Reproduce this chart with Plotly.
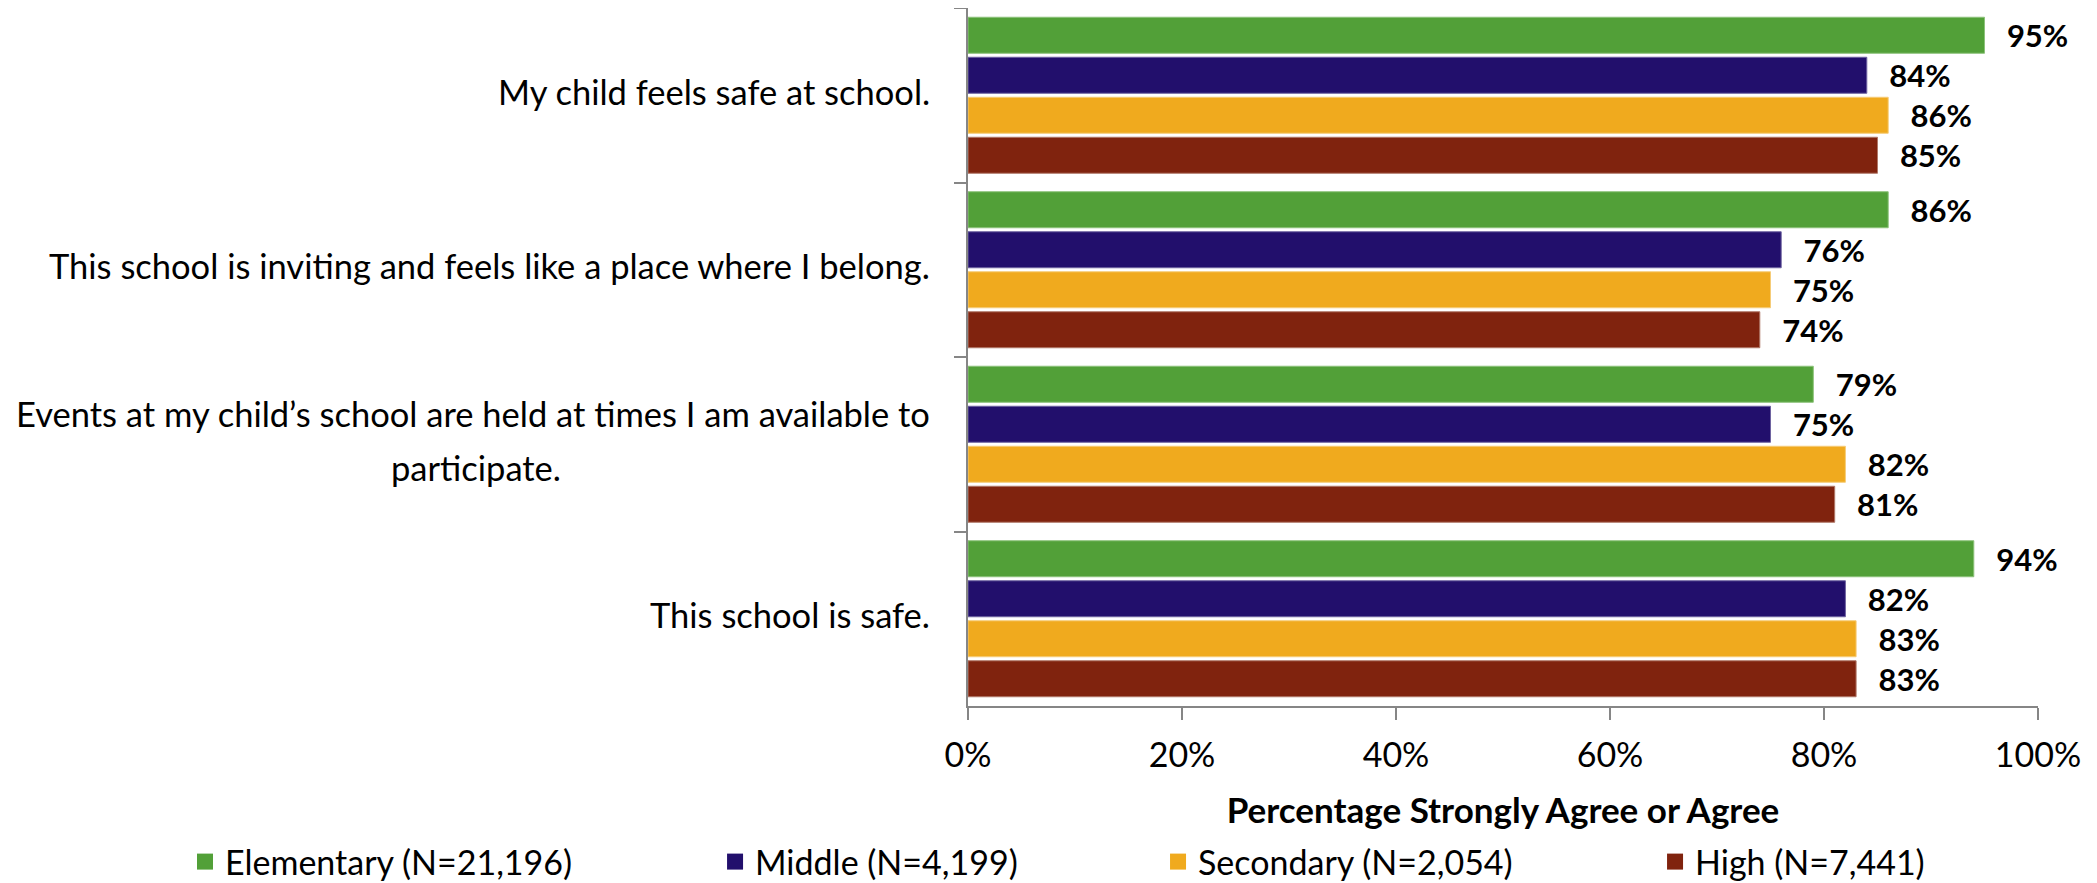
import plotly.graph_objects as go

categories = [
    "My child feels safe at school.",
    "This school is inviting and feels like a place where I belong.",
    "Events at my child\u2019s school are held at times I am available to<br>participate.",
    "This school is safe.",
]
series_names = ["Elementary (N=21,196)", "Middle (N=4,199)", "Secondary (N=2,054)", "High (N=7,441)"]
elementary = [95, 86, 79, 94]
middle = [84, 76, 75, 82]
secondary = [86, 75, 82, 83]
high = [85, 74, 81, 83]
x_ticks = [0, 20, 40, 60, 80, 100]

colors = ["#52A038", "#220F6C", "#F0AA1E", "#80230E"]
edge_colors = ["#8CC27A", "#6E63A0", "#F6CC78", "#B07868"]
legend_x = [-0.7318, -0.2364, 0.1776, 0.6421]

FONT = "Lato, Carlito, Calibri, sans-serif"
values = [elementary, middle, secondary, high]
ycats = [c.replace("<br>", " ") for c in categories]

fig = go.Figure()
for i, (name, vals) in enumerate(zip(series_names, values)):
    fig.add_trace(go.Bar(
        y=ycats, x=vals, orientation="h", name=name,
        marker=dict(color=colors[i], line=dict(color=edge_colors[i], width=1)),
        texttemplate="\u2002\u200a\u200a%{x}%", textposition="outside", constraintext="none",
        cliponaxis=False,
        textfont=dict(family=FONT, size=31, color="#000000", weight="bold"),
        showlegend=False, hoverinfo="skip",
    ))
for i, name in enumerate(series_names):
    lg = "legend" if i == 0 else f"legend{i+1}"
    fig.add_trace(go.Scatter(
        x=[None], y=[None], mode="markers", name=name,
        marker=dict(symbol="square", size=21, color=colors[i]),
        legend=lg, showlegend=True,
    ))

legend_common = dict(orientation="h", xanchor="left", yanchor="middle", y=-0.2235,
                     font=dict(family=FONT, size=34, color="#000000"),
                     bgcolor="rgba(0,0,0,0)", borderwidth=0)
layout_legends = {}
for i in range(4):
    key = "legend" if i == 0 else f"legend{i+1}"
    layout_legends[key] = dict(x=legend_x[i], **legend_common)

# category labels: right-aligned next to the axis; wrapped lines centred under the first line
LABEL_X = -0.0336
WRAP_CENTER_X = -0.4600
LINE_STEP = 54
annotations = []
for raw, yc in zip(categories, ycats):
    lines = raw.split("<br>")
    n = len(lines)
    for k, line in enumerate(lines):
        shift = ((n - 1) / 2 - k) * LINE_STEP + 4
        first = k == 0
        annotations.append(dict(
            text=line, x=LABEL_X if first else WRAP_CENTER_X, xref="paper", y=yc, yref="y",
            xanchor="right" if first else "center", yanchor="middle", yshift=shift,
            showarrow=False, font=dict(family=FONT, size=34.5, color="#000000"),
        ))

fig.update_layout(
    width=2089, height=875,
    margin=dict(l=960, r=59, t=0, b=177, autoexpand=False),
    paper_bgcolor="white", plot_bgcolor="white",
    barmode="group", bargap=0.083, bargroupgap=0.1,
    annotations=annotations,
    xaxis=dict(
        range=[0, 100], tickvals=x_ticks, ticktext=[f"{v}%" for v in x_ticks],
        showgrid=False, zeroline=False, showline=True, linecolor="#868686", linewidth=2,
        ticks="outside", ticklen=12, tickwidth=2, tickcolor="#868686",
        ticklabelstandoff=6,
        tickfont=dict(family=FONT, size=34, color="#000000"),
        title=dict(text="<b>Percentage Strongly Agree or Agree</b>",
                   font=dict(family=FONT, size=35, color="#000000"), standoff=26),
    ),
    yaxis=dict(
        type="category", categoryorder="array", categoryarray=ycats,
        range=[3.5, -0.5], showgrid=False, zeroline=False,
        showline=True, linecolor="#868686", linewidth=2,
        ticks="outside", ticklen=12, tickwidth=2, tickcolor="#868686",
        tickson="boundaries", showticklabels=False,
    ),
    **layout_legends,
)

fig.write_html("out.html")
